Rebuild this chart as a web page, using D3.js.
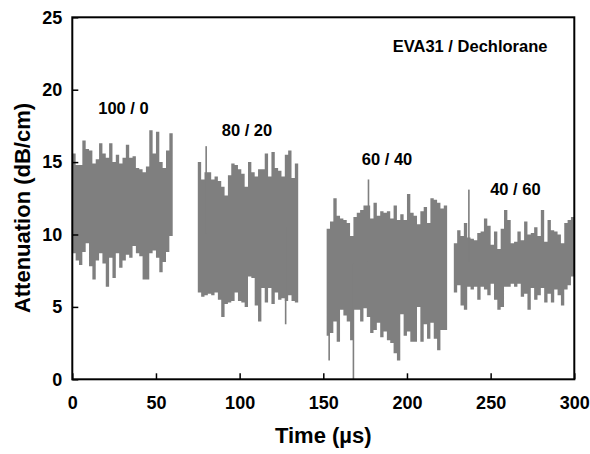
<!DOCTYPE html>
<html>
<head>
<meta charset="utf-8">
<script src="https://cdn.jsdelivr.net/npm/d3@7"></script>
<style>
  body { margin: 0; background: #fff; }
  svg text { font-family: "Liberation Sans", Arial, sans-serif; font-weight: bold; fill: #000; }
</style>
</head>
<body>
<div id="viz"></div>
<script>
// start time (µs) of each recorded window, bins are 2 µs wide
const bandStarts = [0, 75, 152, 228];
const binWidth = 2;

// upper / lower envelope of the signal, dB/cm, one value per bin
const hi1 = [15.6,14.8,14.8,16.5,15.9,15.8,14.9,15.2,16.3,15.6,15.3,16.3,15.0,15.5,14.9,15.3,16.2,15.3,15.4,14.6,14.5,14.3,14.7,17.2,15.6,17.1,15.0,14.6,15.8,17.0];
const lo1 = [8.7,8.2,7.9,8.8,9.4,7.8,6.9,8.2,8.7,8.0,6.4,8.4,7.0,8.7,7.7,8.2,8.6,8.4,9.2,8.7,8.5,6.9,6.9,8.7,8.9,8.4,7.4,8.1,8.8,9.9];

const hi2 = [15.0,13.8,14.3,14.3,13.8,14.0,13.7,13.3,12.7,14.1,14.9,14.8,14.5,14.2,13.3,15.0,14.3,14.0,14.5,14.5,15.6,14.0,15.7,14.6,14.4,14.0,15.5,15.8,13.9,14.9];
const lo2 = [6.0,5.7,5.8,5.9,5.8,6.0,5.5,4.3,5.2,5.3,5.4,6.0,5.4,5.3,5.0,7.1,7.0,5.1,4.0,6.3,5.3,6.3,5.2,6.0,5.5,5.6,5.4,5.8,5.4,5.3];

const hi3 = [10.4,10.9,12.5,11.3,11.1,11.0,10.8,9.9,11.2,11.5,11.7,12.0,12.0,11.1,12.2,11.3,11.6,11.5,11.6,11.1,12.0,11.0,11.4,11.0,12.8,11.5,11.3,10.7,11.6,11.9,10.8,12.5,12.4,12.2,11.8,12.0];
const lo3 = [3.0,3.2,4.0,2.6,4.8,4.4,4.0,2.7,4.8,4.8,4.0,4.9,4.3,3.2,3.4,3.9,2.9,3.3,2.7,2.5,1.8,1.3,4.5,3.0,3.3,2.6,2.6,5.0,2.6,3.8,2.8,3.9,2.8,2.0,3.4,3.4];

const hi4 = [9.4,10.3,9.9,10.8,9.8,9.7,9.6,10.1,10.2,11.1,10.6,9.3,10.2,9.0,10.4,11.7,11.0,9.4,9.5,10.2,9.6,10.9,10.0,10.1,10.5,9.9,11.7,9.5,11.0,10.3,10.2,10.0,9.4,10.8,11.0,11.2];
const lo4 = [6.0,6.5,5.1,4.8,6.4,6.2,6.4,5.5,6.4,6.2,5.8,6.6,5.5,4.8,5.0,6.4,6.4,6.6,6.4,6.6,5.7,5.9,4.8,6.3,5.5,5.8,6.3,5.3,5.9,5.3,6.2,5.8,5.1,6.2,6.5,7.1];

// single narrow spikes: [time µs, value dB/cm]
const spikes = [[80, 16.1], [127.5, 3.8], [153.5, 1.3], [168, 0], [177, 13.8], [237, 13.1]];

const ratioLabels = ["100 / 0", "80 / 20", "60 / 40", "40 / 60"];
const ratioAt = [[15.5, 18.3], [89.3, 16.8], [173, 14.8], [249.7, 12.7]];

const xTicks = [0, 50, 100, 150, 200, 250, 300];
const yTicks = [0, 5, 10, 15, 20, 25];

const width = 590, height = 454;
const margin = {left: 72.3, right: 15.7, top: 17.3, bottom: 74.7};

const svg = d3.select("#viz").append("svg")
    .attr("width", width)
    .attr("height", height);

const x = d3.scaleLinear().domain([0, 300]).range([margin.left, width - margin.right]);
const y = d3.scaleLinear().domain([0, 25]).range([height - margin.bottom, margin.top]);

const his = [hi1, hi2, hi3, hi4], los = [lo1, lo2, lo3, lo4];
const grey = "#7f7f7f";

// one step-area per window; last bin repeated so the final step has width
const bands = bandStarts.map((s, b) => {
    const pts = his[b].map((h, i) => ({t: s + i * binWidth, hi: h, lo: los[b][i]}));
    const last = pts[pts.length - 1];
    pts.push({t: last.t + binWidth, hi: last.hi, lo: last.lo});
    return pts;
});

const area = d3.area()
    .curve(d3.curveStepAfter)
    .x(d => x(d.t))
    .y0(d => y(d.lo))
    .y1(d => y(d.hi));

svg.append("g")
    .selectAll("path")
    .data(bands)
    .join("path")
        .attr("d", area)
        .attr("fill", grey);

const allBins = bands.flat();

// spike goes from the middle of its bin out to the spike value
svg.append("g")
    .selectAll("rect")
    .data(spikes.map(([t, v]) => {
        const bin = allBins.find(d => t >= d.t && t < d.t + binWidth);
        const mid = (bin.hi + bin.lo) / 2;
        return {t, top: Math.max(v, mid), bot: Math.min(v, mid)};
    }))
    .join("rect")
        .attr("x", d => x(d.t) - 0.8)
        .attr("width", 1.6)
        .attr("y", d => y(d.top))
        .attr("height", d => y(d.bot) - y(d.top))
        .attr("fill", grey);

// frame
svg.append("rect")
    .attr("x", margin.left)
    .attr("y", margin.top)
    .attr("width", x(300) - x(0))
    .attr("height", y(0) - y(25))
    .attr("fill", "none")
    .attr("stroke", "#000")
    .attr("stroke-width", 2);

const xAxis = svg.append("g")
    .attr("transform", `translate(0,${y(0)})`)
    .call(d3.axisBottom(x).tickValues(xTicks).tickSizeInner(-6).tickSizeOuter(0).tickPadding(17));

const yAxis = svg.append("g")
    .attr("transform", `translate(${x(0)},0)`)
    .call(d3.axisLeft(y).tickValues(yTicks).tickSizeInner(-6).tickSizeOuter(0).tickPadding(10));

[xAxis, yAxis].forEach(g => {
    g.select(".domain").remove();
    g.selectAll(".tick line").attr("stroke", "#000").attr("stroke-width", 1.5);
    g.selectAll(".tick text").style("font-size", "18px").attr("fill", "#000");
});

svg.append("text")
    .attr("x", (x(0) + x(300)) / 2)
    .attr("y", 443)
    .style("text-anchor", "middle")
    .style("font-size", "22px")
    .text("Time (\u00b5s)");

svg.append("text")
    .attr("transform", `translate(30,208) rotate(-90)`)
    .style("text-anchor", "middle")
    .style("font-size", "22px")
    .text("Attenuation (dB/cm)");

svg.selectAll(".ratio")
    .data(ratioLabels)
    .join("text")
        .attr("class", "ratio")
        .attr("x", (d, i) => x(ratioAt[i][0]))
        .attr("y", (d, i) => y(ratioAt[i][1]))
        .style("font-size", "16.5px")
        .text(d => d);

svg.append("text")
    .attr("x", x(191.5))
    .attr("y", y(22.6))
    .style("font-size", "16.5px")
    .text("EVA31 / Dechlorane");
</script>
</body>
</html>
